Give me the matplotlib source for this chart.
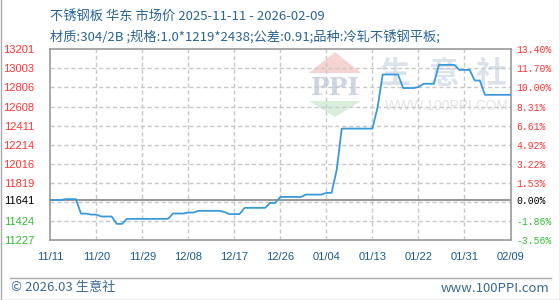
import matplotlib
matplotlib.use('Agg')
import matplotlib.pyplot as plt
from matplotlib.patches import Polygon
from matplotlib.lines import Line2D

# ---------------- data ----------------
prices = [
    11641, 11641, 11641, 11650, 11650, 11650, 11500, 11500, 11490, 11490,
    11470, 11470, 11470, 11394, 11394, 11446, 11446, 11446, 11446, 11446,
    11446, 11446, 11446, 11446, 11501, 11501, 11501, 11511, 11511, 11529,
    11529, 11529, 11529, 11529, 11518, 11495, 11495, 11495, 11560, 11560,
    11560, 11560, 11560, 11611, 11611, 11673, 11673, 11673, 11673, 11673,
    11697, 11697, 11697, 11697, 11715, 11715, 11950, 12380, 12380, 12380,
    12380, 12380, 12380, 12380, 12600, 12940, 12940, 12940, 12940, 12800,
    12800, 12800, 12810, 12844, 12844, 12844, 13040, 13040, 13040, 13040,
    12988, 12988, 12988, 12878, 12878, 12730, 12730, 12730, 12730, 12730,
    12730,
]
x_labels = ['11/11', '11/20', '11/29', '12/08', '12/17', '12/26',
            '01/04', '01/13', '01/22', '01/31', '02/09']
x_tick_step = 9
y_left_labels = ['11227', '11424', '11641', '11819', '12016', '12214',
                 '12411', '12608', '12806', '13003', '13201']
y_right_labels = ['-3.56%', '-1.86%', '0.00%', '1.53%', '3.22%', '4.92%',
                  '6.61%', '8.31%', '10.00%', '11.70%', '13.40%']
base_price = 11641
y_min, y_max = 11227, 13201
title1 = '不锈钢板 华东 市场价 2025-11-11 - 2026-02-09'
title2 = '材质:304/2B ;规格:1.0*1219*2438;公差:0.91;品种:冷轧不锈钢平板;'
footer_left = '© 2026.03 生意社'
footer_right = 'www.100PPI.com'

# ---------------- style ----------------
W, H = 560, 300
CJK = ['Noto Sans CJK SC', 'DejaVu Sans']
RED = '#ff3333'
GREEN = '#33bb33'
XCOL = '#1a5b8c'
TCOL = '#2a6496'
GRID = '#c8c8c8'
FRAME = '#999999'

def fx(px):
    return px / W

def fy(py):
    return 1 - py / H

fig = plt.figure(figsize=(W / 100, H / 100), dpi=100)
fig.patch.set_facecolor('white')

L, R, T, B = 50.3, 510.5, 49.3, 240.0
ax = fig.add_axes([fx(L), fy(B), fx(R - L), (B - T) / H])
ax.patch.set_alpha(0)

days = list(range(len(prices)))
ax.set_xlim(0, len(prices) - 1)
ax.set_ylim(y_min, y_max)

# grid
n = len(y_left_labels) - 1
for k in range(1, n):
    ax.axhline(y_min + k * (y_max - y_min) / n, color=GRID, lw=1,
               ls=(0, (3, 2)), zorder=1)
xt = [i * x_tick_step for i in range(len(x_labels))]
for v in xt[1:-1]:
    ax.axvline(v, color=GRID, lw=1, ls=(0, (3, 2)), zorder=1)
ax.axhline(base_price, color=FRAME, lw=1.5, zorder=2)

ax.plot(days, prices, color='#3a9ad9', lw=1.3, zorder=3)

for s in ax.spines.values():
    s.set_color(FRAME)
    s.set_linewidth(1.2)

ax.set_xticks(xt)
ax.set_xticklabels(x_labels, fontfamily='Liberation Sans', fontsize=8,
                   color=XCOL)
ax.tick_params(axis='x', length=0, pad=8.5)

yt = [float(v) for v in y_left_labels]
ax.set_yticks(yt)
ax.set_yticklabels(y_left_labels, fontfamily='Liberation Sans', fontsize=8)
ax.tick_params(axis='y', length=0, pad=11.5)
for lab, v in zip(ax.get_yticklabels(), yt):
    lab.set_color(RED if v > base_price else (GREEN if v < base_price else 'black'))

ax2 = ax.twinx()
ax2.set_ylim(y_min, y_max)
ax2.set_yticks(yt)
ax2.set_yticklabels(y_right_labels, fontfamily='Liberation Mono', fontsize=7)
ax2.tick_params(axis='y', length=0, pad=4)
for lab, v in zip(ax2.get_yticklabels(), yt):
    lab.set_color(RED if v > base_price else (GREEN if v < base_price else 'black'))
for s in ax2.spines.values():
    s.set_visible(False)

# watermark (drawn beneath axes)
fig.patches.append(Polygon([(fx(309), fy(73)), (fx(335), fy(52)), (fx(361), fy(73))],
                           closed=True, transform=fig.transFigure,
                           facecolor='#f7d4d4', edgecolor='none', zorder=-2))
fig.patches.append(Polygon([(fx(309), fy(101)), (fx(361), fy(101)), (fx(335), fy(117))],
                           closed=True, transform=fig.transFigure,
                           facecolor='#d8efdd', edgecolor='none', zorder=-2))
fig.text(fx(335), fy(88), 'PPI', ha='center', va='center', fontsize=18,
         fontfamily='DejaVu Serif', fontweight='bold', color='#cdd4e4', zorder=-1)
for ch, cx in zip('生意社', [394, 444, 491]):
    fig.text(fx(cx), fy(74), ch, ha='center', va='center', fontsize=22,
             fontfamily=CJK, fontweight='bold', color='#dce2ec', zorder=-1)
fig.text(fx(385), fy(106), 'WWW.100PPI.COM', ha='left', va='center',
         fontsize=10, fontfamily='Liberation Sans', color='#e4e4e4', zorder=-1)

# titles
fig.text(fx(50), fy(16), title1, ha='left', va='center', fontsize=9.5,
         fontfamily=CJK, color=TCOL)
fig.text(fx(50), fy(37.5), title2, ha='left', va='center', fontsize=9.5,
         fontfamily=CJK, color=TCOL)

# footer
fig.add_artist(Line2D([fx(10), fx(551)], [fy(277.5), fy(277.5)],
                      transform=fig.transFigure, color='#aaaaaa', lw=1))
fig.text(fx(11), fy(288), footer_left, ha='left', va='center', fontsize=9.5,
         fontfamily=CJK, color='#3a6a94')
fig.text(fx(549), fy(288), footer_right, ha='right', va='center', fontsize=9.5,
         fontfamily=CJK, color='#3a6a94')

# outer border (left, right, bottom)
fig.add_artist(Line2D([fx(0.5), fx(0.5), fx(559.5), fx(559.5)],
                      [fy(0), fy(299.5), fy(299.5), fy(0)],
                      transform=fig.transFigure, color='#aaaaaa', lw=1))

fig.savefig('out.png', dpi=100)
